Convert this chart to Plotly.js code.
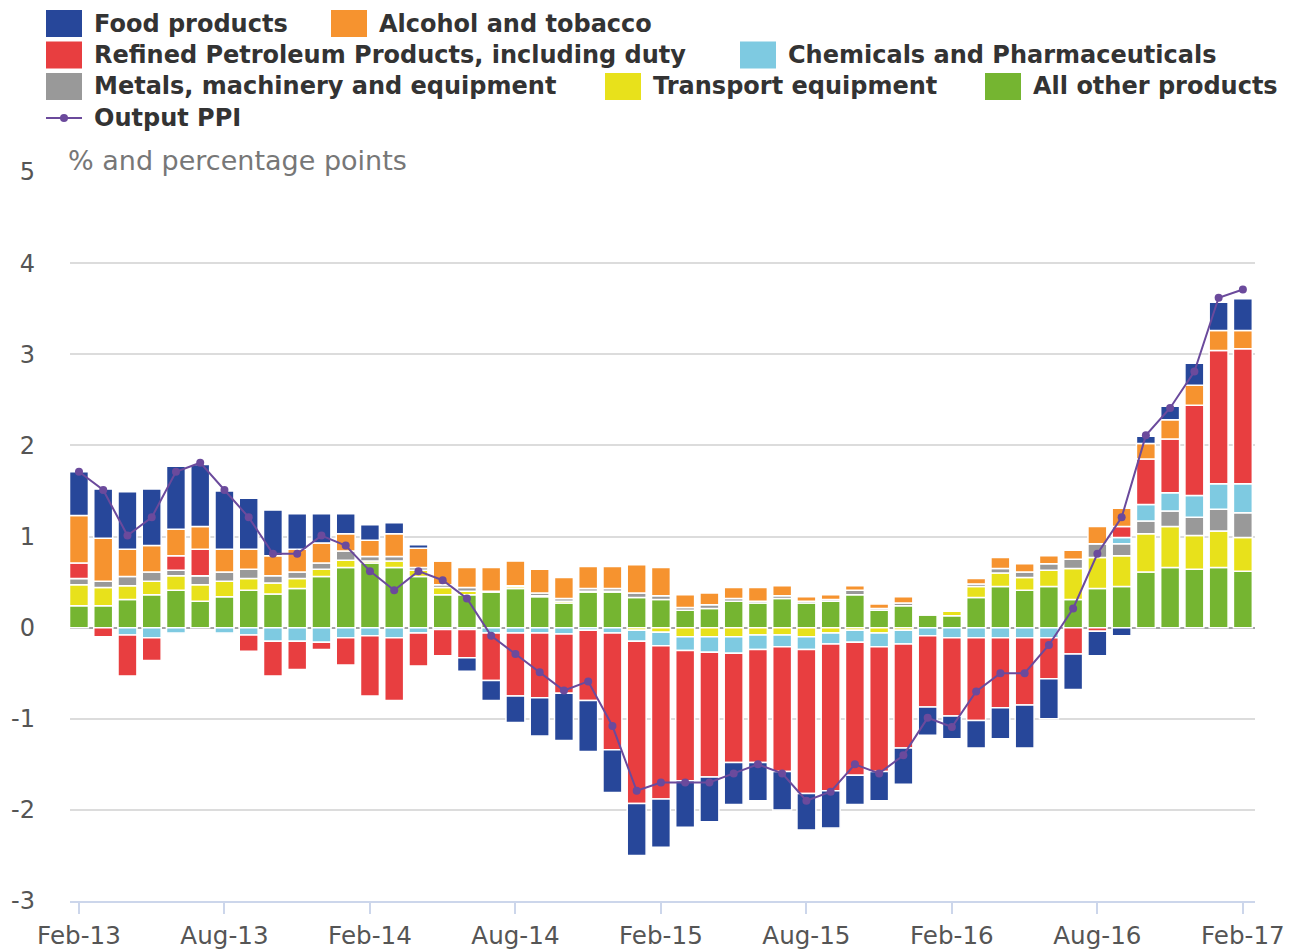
<!DOCTYPE html>
<html>
<head>
<meta charset="utf-8">
<script src="https://cdn.plot.ly/plotly-3.0.1.min.js"></script>
<style>html,body{margin:0;padding:0;background:#fff;}#chart{width:1295px;height:950px;}</style>
</head>
<body>
<div id="chart"></div>
<script>
// ---- Data ----
var months = ["Feb-13","Mar-13","Apr-13","May-13","Jun-13","Jul-13","Aug-13","Sep-13","Oct-13","Nov-13","Dec-13","Jan-14",
  "Feb-14","Mar-14","Apr-14","May-14","Jun-14","Jul-14","Aug-14","Sep-14","Oct-14","Nov-14","Dec-14","Jan-15",
  "Feb-15","Mar-15","Apr-15","May-15","Jun-15","Jul-15","Aug-15","Sep-15","Oct-15","Nov-15","Dec-15","Jan-16",
  "Feb-16","Mar-16","Apr-16","May-16","Jun-16","Jul-16","Aug-16","Sep-16","Oct-16","Nov-16","Dec-16","Jan-17","Feb-17"];
var tickLabels = ["Feb-13","Aug-13","Feb-14","Aug-14","Feb-15","Aug-15","Feb-16","Aug-16","Feb-17"];
var yTickVals = [-3,-2,-1,0,1,2,3,4,5];
var yTickText = ["-3","-2","-1","0","1","2","3","4","5"];

var allOther = [0.24,0.24,0.31,0.36,0.41,0.29,0.34,0.41,0.37,0.43,0.56,0.66,
  0.71,0.66,0.56,0.36,0.36,0.39,0.43,0.34,0.27,0.39,0.39,0.33,
  0.31,0.19,0.21,0.29,0.27,0.32,0.27,0.29,0.36,0.19,0.24,0.14,
  0.13,0.33,0.45,0.41,0.45,0.31,0.43,0.45,0.61,0.66,0.64,0.66,0.62];
var transport = [0.23,0.20,0.15,0.15,0.16,0.18,0.17,0.13,0.12,0.11,0.08,0.08,
  0.02,0.07,0.07,0.08,0.04,0.01,0.02,0.01,0.02,0.01,0.01,-0.03,
  -0.05,-0.10,-0.10,-0.10,-0.08,-0.08,-0.10,-0.06,-0.03,-0.06,-0.03,0.00,
  0.05,0.12,0.15,0.14,0.18,0.34,0.34,0.34,0.42,0.45,0.37,0.40,0.37];
var metals = [0.07,0.07,0.10,0.10,0.06,0.10,0.10,0.10,0.08,0.07,0.07,0.10,
  0.05,0.05,0.03,0.03,0.04,0.00,0.01,0.03,0.03,0.03,0.03,0.05,
  0.04,0.03,0.04,0.03,0.02,0.03,0.02,0.02,0.05,0.02,0.03,0.00,
  0.00,0.03,0.05,0.06,0.07,0.10,0.15,0.13,0.14,0.17,0.20,0.24,0.27];
var chemicals = [0.00,0.00,-0.08,-0.11,-0.06,0.00,-0.06,-0.08,-0.15,-0.15,-0.16,-0.11,
  -0.09,-0.11,-0.06,-0.02,-0.02,-0.06,-0.06,-0.06,-0.07,-0.03,-0.06,-0.12,
  -0.15,-0.15,-0.17,-0.18,-0.16,-0.13,-0.14,-0.12,-0.13,-0.15,-0.15,-0.09,
  -0.11,-0.11,-0.11,-0.11,-0.11,0.00,0.00,0.07,0.18,0.20,0.24,0.28,0.32];
var petroleum = [0.17,-0.10,-0.45,-0.25,0.16,0.29,0.00,-0.18,-0.38,-0.31,-0.08,-0.30,
  -0.66,-0.69,-0.36,-0.29,-0.31,-0.52,-0.69,-0.71,-0.65,-0.77,-1.28,-1.78,
  -1.68,-1.43,-1.37,-1.20,-1.24,-1.37,-1.58,-1.61,-1.46,-1.37,-1.14,-0.78,
  -0.86,-0.91,-0.77,-0.74,-0.45,-0.29,-0.04,0.12,0.50,0.59,0.99,1.46,1.48];
var alcohol = [0.52,0.47,0.30,0.29,0.29,0.25,0.25,0.22,0.22,0.25,0.22,0.19,
  0.18,0.25,0.21,0.26,0.22,0.26,0.27,0.26,0.23,0.24,0.24,0.31,
  0.31,0.14,0.13,0.12,0.15,0.11,0.05,0.05,0.05,0.05,0.07,0.00,
  0.00,0.06,0.12,0.09,0.09,0.10,0.19,0.20,0.17,0.21,0.22,0.22,0.20];
var food = [0.48,0.54,0.63,0.62,0.69,0.68,0.64,0.56,0.50,0.39,0.32,0.22,
  0.17,0.12,0.04,0.00,-0.15,-0.22,-0.29,-0.42,-0.52,-0.56,-0.47,-0.57,
  -0.53,-0.51,-0.49,-0.46,-0.42,-0.42,-0.40,-0.41,-0.32,-0.32,-0.40,-0.31,
  -0.25,-0.30,-0.34,-0.47,-0.44,-0.39,-0.27,-0.09,0.08,0.15,0.24,0.31,0.35];
var outputPPI = [1.71,1.51,1.01,1.21,1.71,1.81,1.51,1.21,0.81,0.81,1.01,0.90,
  0.62,0.41,0.62,0.52,0.32,-0.09,-0.29,-0.49,-0.69,-0.59,-1.08,-1.79,
  -1.70,-1.70,-1.70,-1.60,-1.50,-1.60,-1.90,-1.80,-1.50,-1.60,-1.40,-0.99,
  -1.09,-0.70,-0.50,-0.50,-0.19,0.21,0.81,1.21,2.11,2.41,2.81,3.62,3.71];

var seriesNames = ["Food products","Alcohol and tobacco","Refined Petroleum Products, including duty",
  "Chemicals and Pharmaceuticals","Metals, machinery and equipment","Transport equipment","All other products","Output PPI"];

// ---- Styling ----
var colors = {
  food:"#27479a", alcohol:"#f6932f", petroleum:"#e83e40", chemicals:"#7ecae1",
  metals:"#999999", transport:"#e8e11b", other:"#75b531", ppi:"#6b4a9c"
};
var FONT = "DejaVu Sans, Verdana, sans-serif";

var idx = months.map(function(_, i){ return i; });
var tickIdx = tickLabels.map(function(l){ return months.indexOf(l); });

function barTrace(name, vals, color){
  return {type:"bar", name:name, x:idx, y:vals, customdata:months, hoverinfo:"skip", textposition:"none",
    marker:{color:color, line:{color:"#ffffff", width:1.5}}, showlegend:false};
}
// stacking order (bottom to top)
var traces = [
  barTrace(seriesNames[6], allOther, colors.other),
  barTrace(seriesNames[5], transport, colors.transport),
  barTrace(seriesNames[4], metals, colors.metals),
  barTrace(seriesNames[3], chemicals, colors.chemicals),
  barTrace(seriesNames[2], petroleum, colors.petroleum),
  barTrace(seriesNames[1], alcohol, colors.alcohol),
  barTrace(seriesNames[0], food, colors.food),
  {type:"scatter", mode:"lines+markers", name:seriesNames[7], x:idx, y:outputPPI, hoverinfo:"skip",
   line:{color:colors.ppi, width:2}, marker:{color:colors.ppi, size:8}, showlegend:false}
];

// ---- Layout helpers (pixel -> paper) ----
var W = 1295, H = 950, mL = 70, mR = 40, mT = 172, mB = 49;
var pw = W - mL - mR, ph = H - mT - mB;
function px(x){ return (x - mL) / pw; }
function py(y){ return (H - mB - y) / ph; }

var legendItems = [
  {name:seriesNames[0], color:colors.food, sx:46, y:23.5},
  {name:seriesNames[1], color:colors.alcohol, sx:331, y:23.5},
  {name:seriesNames[2], color:colors.petroleum, sx:46, y:55},
  {name:seriesNames[3], color:colors.chemicals, sx:740, y:55},
  {name:seriesNames[4], color:colors.metals, sx:46, y:86.5},
  {name:seriesNames[5], color:colors.transport, sx:605, y:86.5},
  {name:seriesNames[6], color:colors.other, sx:985, y:86.5}
];
var shapes = [], annotations = [];
legendItems.forEach(function(it){
  shapes.push({type:"rect", xref:"paper", yref:"paper", x0:px(it.sx), x1:px(it.sx+36), y0:py(it.y-13.5), y1:py(it.y+13.5),
    fillcolor:it.color, line:{width:0}});
  annotations.push({xref:"paper", yref:"paper", x:px(it.sx+46), y:py(it.y), xanchor:"left", yanchor:"middle", showarrow:false,
    text:it.name, font:{family:FONT, size:24, color:"#333333", weight:"bold"}});
});
// Output PPI legend entry
shapes.push({type:"line", xref:"paper", yref:"paper", x0:px(46), x1:px(82), y0:py(118), y1:py(118), line:{color:colors.ppi, width:2}});
shapes.push({type:"circle", xref:"paper", yref:"paper", x0:px(60), x1:px(68), y0:py(122), y1:py(114), fillcolor:colors.ppi, line:{width:0}});
annotations.push({xref:"paper", yref:"paper", x:px(92), y:py(118), xanchor:"left", yanchor:"middle", showarrow:false,
  text:seriesNames[7], font:{family:FONT, size:24, color:"#333333", weight:"bold"}});
// Axis unit label
annotations.push({xref:"paper", yref:"paper", x:px(66), y:py(160), xanchor:"left", yanchor:"middle", showarrow:false,
  text:"% and percentage points", font:{family:FONT, size:27, color:"#777777"}});

var layout = {
  width:W, height:H, margin:{l:mL, r:mR, t:mT, b:mB, pad:0},
  paper_bgcolor:"#ffffff", plot_bgcolor:"#ffffff",
  barmode:"relative", bargap:0.22,
  font:{family:FONT, color:"#555555"},
  showlegend:false,
  xaxis:{range:[-0.37, 48.5], tickmode:"array", tickvals:tickIdx, ticktext:tickLabels,
    showgrid:false, zeroline:false, showline:true, linecolor:"#ccd6eb", linewidth:2,
    ticks:"outside", ticklen:11, tickwidth:2, tickcolor:"#ccd6eb",
    tickfont:{family:FONT, size:24.6, color:"#555555"}, fixedrange:true},
  yaxis:{range:[-3, 5], tickmode:"array", tickvals:yTickVals, ticktext:yTickText,
    showgrid:true, gridcolor:"#dcdcdc", gridwidth:2,
    zeroline:true, zerolinecolor:"#a3a3a3", zerolinewidth:2, showline:false, ticks:"",
    ticklabelstandoff:34, tickfont:{family:FONT, size:24, color:"#555555"}, fixedrange:true},
  shapes:shapes, annotations:annotations
};

Plotly.newPlot("chart", traces, layout, {displayModeBar:false, staticPlot:true});
</script>
</body>
</html>
